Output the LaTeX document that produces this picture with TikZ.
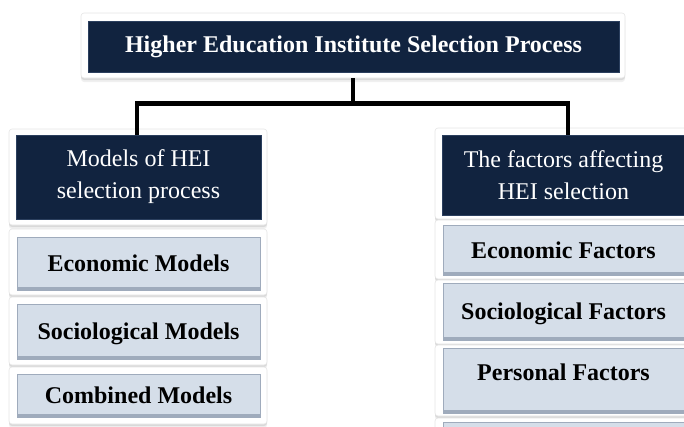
\documentclass[tikz,border=0pt]{standalone}
\usepackage{fontspec}
\setmainfont{Liberation Serif}
\usepackage{tikz}
\usetikzlibrary{shadows}
\definecolor{navy}{HTML}{11233F}
\definecolor{navyedge}{HTML}{2B3F5E}
\definecolor{itemfill}{HTML}{D5DEE9}
\definecolor{itemedge}{HTML}{9FABBC}
\tikzset{
    whiteframe/.style={
            fill=white, draw=black!10, line width=0.6pt, rounded corners=3pt, inner sep=0pt,
            drop shadow={opacity=0.12, shadow xshift=0pt, shadow yshift=-4pt},
            drop shadow={opacity=0.2, shadow xshift=0pt, shadow yshift=-2pt}
        },
    headbox/.style={
            fill=navy, draw=navyedge, line width=1pt, text=white,
            align=center, inner sep=0pt,
            font=\fontsize{24}{32}\selectfont
        },
    topbox/.style={headbox, font=\bfseries\fontsize{24}{28}\selectfont},
    itembox/.style={
            fill=itemfill, draw=itemedge, line width=1pt, inner sep=0pt,
            text height=16pt, text depth=0pt,
            font=\bfseries\fontsize{24}{28}\selectfont,
            path picture={
                    \fill[itemedge] (path picture bounding box.south west)
                    rectangle ([yshift=3pt]path picture bounding box.south east);
                }
        },
    conn/.style={line width=4.5pt, line join=miter}
}

\begin{document}
\begin{tikzpicture}[x=1pt, y=-1pt]
        \useasboundingbox (0, 0) rectangle (684, 426);
        \clip (0, 0) rectangle (684, 426);
        %draw top box
        \node[whiteframe, minimum width=544, minimum height=65] (topframe) at (353, 45.5) {};
        \node[topbox, minimum width=531, minimum height=51] (top) at (353.5, 46.5) {Higher Education Institute Selection Process};
        %draw left column
        \node[whiteframe, minimum width=258, minimum height=96] (lheadframe) at (138, 177) {};
        \node[headbox, minimum width=245, minimum height=84] (lhead) at (138.5, 177) {Models of HEI\\selection process};
        \node[whiteframe, minimum width=258, minimum height=66] (leconframe) at (138, 262) {};
        \node[itembox, minimum width=243, minimum height=53] (lecon) at (138.5, 263.5) {Economic Models};
        \node[whiteframe, minimum width=258, minimum height=68] (lsocframe) at (138, 331) {};
        \node[itembox, minimum width=243, minimum height=55] (lsoc) at (138.5, 331.5) {Sociological Models};
        \node[whiteframe, minimum width=258, minimum height=57] (lcombframe) at (138, 395.5) {};
        \node[itembox, minimum width=243, minimum height=43] (lcomb) at (138.5, 395.5) {Combined Models};
        %draw right column
        \node[whiteframe, minimum width=256, minimum height=91] (rheadframe) at (563, 173.5) {};
        \node[headbox, minimum width=243, minimum height=80] (rhead) at (563.5, 175) {The factors affecting\\HEI selection};
        \node[whiteframe, minimum width=256, minimum height=59] (reconframe) at (563, 249.5) {};
        \node[itembox, minimum width=241, minimum height=50] (recon) at (563.5, 250) {Economic Factors};
        \node[whiteframe, minimum width=256, minimum height=64] (rsocframe) at (563, 312) {};
        \node[itembox, minimum width=241, minimum height=57] (rsoc) at (563.5, 311.5) {Sociological Factors};
        \node[whiteframe, minimum width=256, minimum height=71] (rpersframe) at (563, 380.5) {};
        \node[itembox, minimum width=241, minimum height=65, text depth=16pt] (rpers) at (563.5, 380.5) {Personal Factors};
        \node[whiteframe, minimum width=256, minimum height=62] (rnextframe) at (563, 449) {};
        \node[itembox, minimum width=241, minimum height=53] (rnext) at (563.5, 448.5) {};
        %draw connectors
        \draw[conn] (topframe.south) -- ++(0, 25) coordinate (split);
        \draw[conn] ([xshift=-1.5pt]lhead.north) |- (split) -| ([xshift=4.5pt]rhead.north);
    \end{tikzpicture}
\end{document}
